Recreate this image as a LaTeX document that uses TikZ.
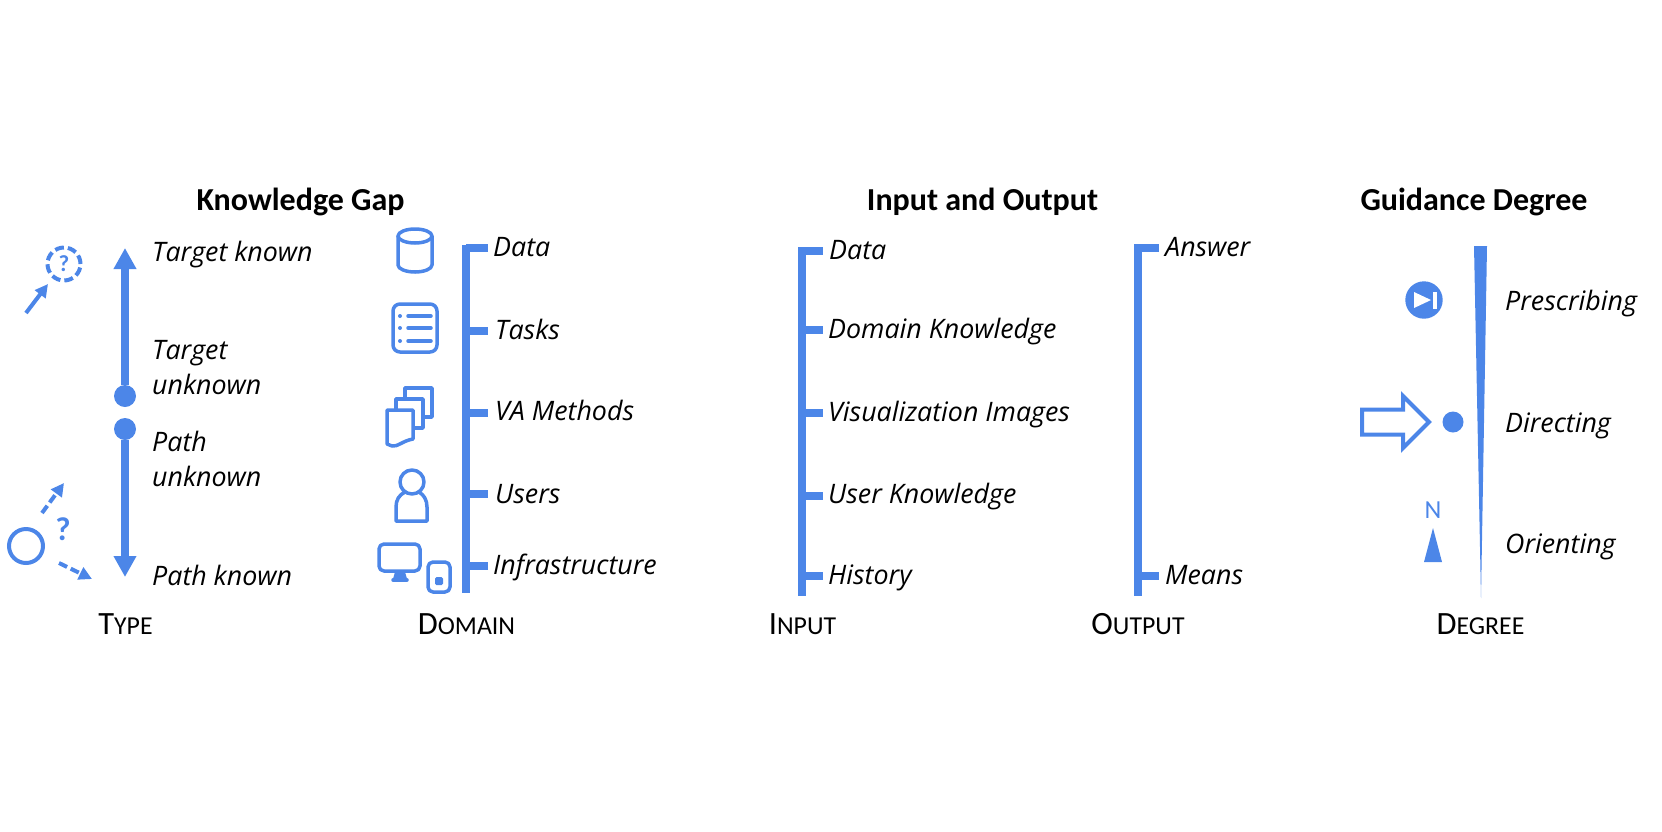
\documentclass[tikz,border=0pt]{standalone}
\usepackage{fontspec}
\setmainfont{Carlito}
\newfontfamily\labfont{Open Sans}
\usetikzlibrary{arrows.meta}
\definecolor{gapblue}{HTML}{4C86E8}
\newcommand{\capsname}[2]{{\fontsize{32.5}{32.5}\selectfont #1}{\fontsize{25.8}{25.8}\selectfont #2}}
\begin{document}
\begin{tikzpicture}[x=1pt, y=-1pt,
    rail/.style={draw=gapblue, line width=7.5pt},
    icon/.style={draw=gapblue, line width=3.5pt, line join=round},
    lab/.style={anchor=base west, inner sep=0pt, yshift=-1pt, font=\labfont\itshape\fontsize{26.8}{26.8}\selectfont},
    head/.style={anchor=base, inner sep=0pt, yshift=-1pt, font=\bfseries\fontsize{32}{32}\selectfont},
    axis/.style={anchor=base, inner sep=0pt, yshift=-1pt},
    bullet/.style={circle, fill=gapblue, minimum size=22pt, inner sep=0pt, outer sep=0pt},
    tiny/.style={draw=gapblue, line width=4pt, -{Triangle[width=13pt,length=13pt]}},
    quest/.style={inner sep=0pt, text=gapblue, font=\bfseries}]
    \useasboundingbox (0,0) rectangle (1662,831);

    % headings
    \node[head] (gap) at (300.5,209) {Knowledge Gap};
    \node[head] (inout) at (982.5,209) {Input and Output};
    \node[head] (guide) at (1474,209) {Guidance Degree};
    \node[axis] (axtype) at (125.5,633) {\capsname{T}{YPE}};
    \node[axis] (axdomain) at (466.5,633) {\capsname{D}{OMAIN}};
    \node[axis] (axinput) at (802.5,633) {\capsname{I}{NPUT}};
    \node[axis] (axoutput) at (1138,633) {\capsname{O}{UTPUT}};
    \node[axis] (axdegree) at (1480.5,633) {\capsname{D}{EGREE}};

    % type axis
    \coordinate (typetop) at (125,248);
    \coordinate (typebot) at (125,577);
    \node[bullet] (tgt) at (125,396) {};
    \node[bullet] (pth) at (125,429) {};
    \draw[rail, -{Triangle[width=21.5pt,length=21pt]}] (tgt) -- (typetop);
    \draw[rail, -{Triangle[width=21.5pt,length=21pt]}] (pth) -- (typebot);
    \node[lab] (ltk) at (152,260) {Target known};
    \node[lab] (ltu) at (152,358) {Target};
    \node[lab] (ltv) at (152,393) {unknown};
    \node[lab] (lpu) at (152,450) {Path};
    \node[lab] (lpv) at (152,485) {unknown};
    \node[lab] (lpk) at (152,584) {Path known};

    % type glyphs
    \node[circle, draw=gapblue, line width=4pt, dash pattern=on 9pt off 4pt, minimum size=33pt, inner sep=0pt] (dashc) at (64,264) {};
    \node[quest, font=\bfseries\fontsize{23}{23}\selectfont] (q1) at (64,264) {?};
    \coordinate (a1) at (26,313);
    \coordinate (a2) at (48,284);
    \draw[tiny] (a1) -- (a2);
    \node[circle, draw=gapblue, line width=4pt, minimum size=34pt, inner sep=0pt] (startc) at (26,546) {};
    \node[quest, font=\bfseries\fontsize{33}{33}\selectfont] (q2) at (63,529) {?};
    \coordinate (b1) at (42,513);
    \coordinate (b2) at (64,483);
    \coordinate (c1) at (59,563);
    \coordinate (c2) at (92,579);
    \draw[tiny, dash pattern=on 9pt off 4pt] (b1) -- (b2);
    \draw[tiny, dash pattern=on 9pt off 4pt] (c1) -- (c2);

    % domain axis
    \coordinate (domtop) at (466,244.5);
    \coordinate (dombot) at (466,593);
    \draw[rail] (domtop) -- (dombot);
    \foreach \y/\b/\t/\x in {248/255/Data/493, 331/338/Tasks/495, 413/419/VA Methods/495, 494/502/Users/495, 566/573/Infrastructure/493}{
        \node[lab] (dom\y) at (\x,\b) {\t};
        \coordinate (dt\y) at (466,\y);
        \coordinate (de\y) at (488,\y);
        \draw[rail] (dt\y) -- (de\y);
    };

    % domain icons
    \draw[icon] (415,236) ellipse [x radius=17pt, y radius=7pt];
    \draw[icon] (398,236) -- (398,265) arc [start angle=180, end angle=360, x radius=17pt, y radius=7pt] -- (432,236);
    \draw[icon, rounded corners=7pt] (393,304) rectangle (437,352);
    \foreach \y in {316,328,341}{
        \fill[gapblue] (400,\y) circle (2pt);
        \draw[icon, line cap=round] (408,\y) -- (431,\y);
    };
    \draw[icon, fill=white] (405,388) rectangle (432,417);
    \draw[icon, fill=white] (396,399) rectangle (423,428);
    \draw[icon, fill=white] (387,410) -- (413,410) -- (413,439) .. controls (402,441) and (398,447) .. (392,446) -- (387,444) -- cycle;
    \draw[icon] (405,492) .. controls (399,495) and (396,500) .. (396,507) -- (396,521) -- (427,521) -- (427,507) .. controls (427,500) and (424,495) .. (419,492);
    \draw[icon] (412,482) circle (12pt);
    \draw[icon, rounded corners=5pt] (379,544) rectangle (420,571);
    \draw[icon, fill=gapblue, line width=2pt] (396,572) -- (404,572) -- (406,579) -- (394,579) -- cycle;
    \draw[icon, line cap=round] (393,580) -- (407,580);
    \draw[icon, rounded corners=5pt] (428,562) rectangle (450,592);
    \fill[gapblue, rounded corners=1.5pt] (435,577) rectangle (443,585);

    % input axis
    \coordinate (intop) at (802,247);
    \coordinate (inbot) at (802,596);
    \draw[rail] (intop) -- (inbot);
    \foreach \y/\b/\t/\x in {251/258/Data/829, 330/337/Domain Knowledge/828, 413/420/Visualization Images/828, 496/502/User Knowledge/828, 576/583/History/828}{
        \node[lab] (inp\y) at (\x,\b) {\t};
        \coordinate (it\y) at (802,\y);
        \coordinate (ie\y) at (823,\y);
        \draw[rail] (it\y) -- (ie\y);
    };

    % output axis
    \coordinate (outtop) at (1138,244);
    \coordinate (outbot) at (1138,596);
    \draw[rail] (outtop) -- (outbot);
    \foreach \y/\b/\t in {248/255/Answer, 576/583/Means}{
        \node[lab] (out\y) at (1165,\b) {\t};
        \coordinate (ot\y) at (1138,\y);
        \coordinate (oe\y) at (1159,\y);
        \draw[rail] (ot\y) -- (oe\y);
    };

    % degree wedge
    \fill[gapblue] (1474,246) -- (1487,246) -- (1481,598) -- cycle;
    \node[lab] (lpre) at (1505,309) {Prescribing};
    \node[lab] (ldir) at (1505,431) {Directing};
    \node[lab] (lori) at (1505,552) {Orienting};

    % degree glyphs
    \fill[gapblue] (1424,300) circle (18.7pt);
    \fill[white] (1414,292) -- (1431,300) -- (1414,308) -- cycle;
    \fill[white] (1433,292) rectangle (1437,309);
    \draw[gapblue, line width=4pt, miter limit=4] (1362,409.5) -- (1403,409.5) -- (1403,396) -- (1429,422) -- (1403,448) -- (1403,434.5) -- (1362,434.5) -- cycle;
    \node[bullet, minimum size=21pt] (dirdot) at (1453,422) {};
    \node[inner sep=0pt, text=gapblue, font=\fontsize{26}{26}\selectfont] (north) at (1433,510) {N};
    \fill[gapblue] (1433,528) -- (1442,562) -- (1424,562) -- cycle;
\end{tikzpicture}
\end{document}
